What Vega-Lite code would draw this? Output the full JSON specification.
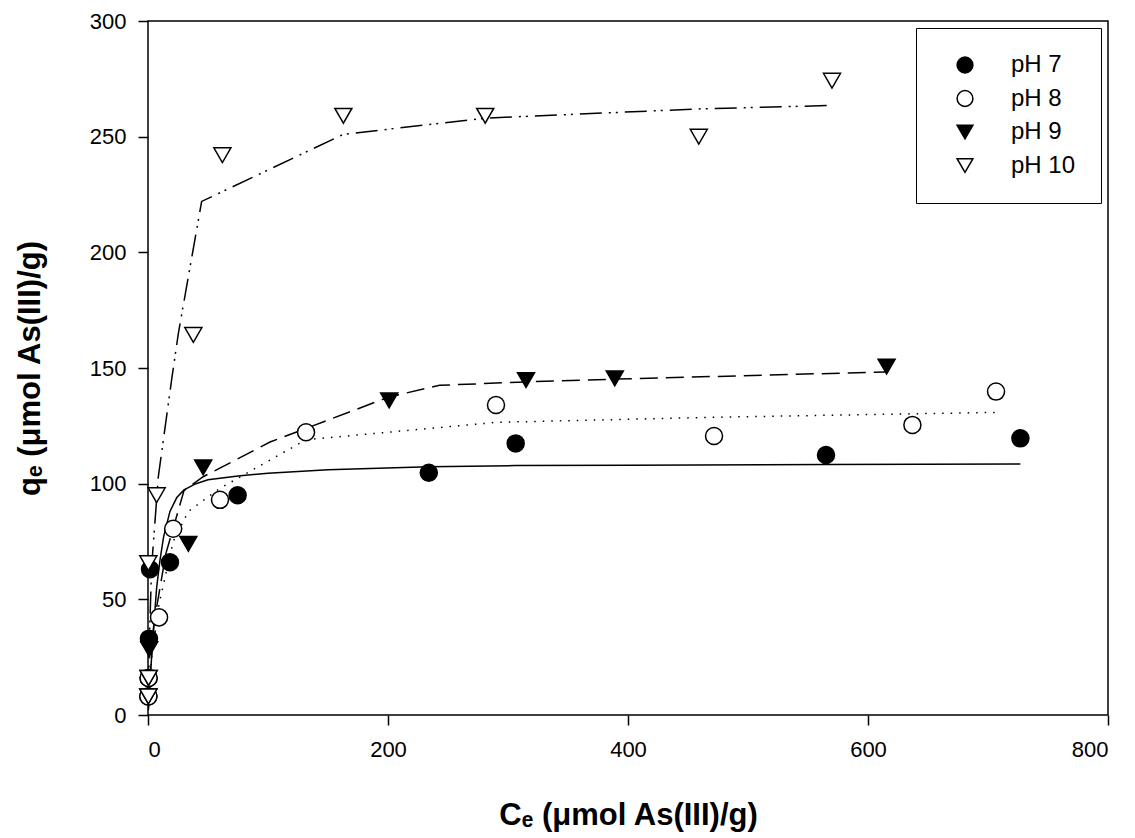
{
  "$schema": "https://vega.github.io/schema/vega-lite/v6.json",
  "width": 960,
  "height": 694,
  "autosize": {"type": "none"},
  "padding": {"left": 148, "top": 21, "right": 27, "bottom": 123},
  "background": "white",
  "config": {
    "view": {"stroke": "black", "strokeWidth": 1.5},
    "font": "Liberation Sans",
    "axis": {
      "grid": false,
      "domain": false,
      "tickColor": "black",
      "tickSize": 10,
      "tickWidth": 1.5,
      "labelFont": "Liberation Sans",
      "labelFontSize": 22,
      "labelColor": "black",
      "titleFont": "Liberation Sans",
      "titleFontSize": 31,
      "titleFontWeight": "bold",
      "titleColor": "black"
    },
    "legend": {
      "strokeColor": "black",
      "fillColor": "white",
      "padding": 25,
      "labelFontSize": 24,
      "labelFont": "Liberation Sans",
      "labelColor": "black",
      "rowPadding": 9.5,
      "labelOffset": 34,
      "symbolOffset": 12,
      "symbolSize": 250,
      "symbolStrokeWidth": 1.5,
      "symbolStrokeColor": "black",
      "symbolOpacity": 1
    }
  },
  "datasets": {
    "points": [
      {"pH": "pH 7", "Ce": 0.3, "qe": 8},
      {"pH": "pH 7", "Ce": 0.5, "qe": 16},
      {"pH": "pH 7", "Ce": 0.8, "qe": 33},
      {"pH": "pH 7", "Ce": 1.7, "qe": 63},
      {"pH": "pH 7", "Ce": 18.3, "qe": 66},
      {"pH": "pH 7", "Ce": 74.7, "qe": 95},
      {"pH": "pH 7", "Ce": 234, "qe": 104.7},
      {"pH": "pH 7", "Ce": 306.4, "qe": 117.4},
      {"pH": "pH 7", "Ce": 565, "qe": 112.4},
      {"pH": "pH 7", "Ce": 727, "qe": 119.6},
      {"pH": "pH 8", "Ce": 0.3, "qe": 8},
      {"pH": "pH 8", "Ce": 0.5, "qe": 16},
      {"pH": "pH 8", "Ce": 9.2, "qe": 42.2},
      {"pH": "pH 8", "Ce": 21, "qe": 80.5},
      {"pH": "pH 8", "Ce": 60, "qe": 93},
      {"pH": "pH 8", "Ce": 131.7, "qe": 122.2},
      {"pH": "pH 8", "Ce": 290, "qe": 134},
      {"pH": "pH 8", "Ce": 471.7, "qe": 120.6},
      {"pH": "pH 8", "Ce": 637, "qe": 125.4},
      {"pH": "pH 8", "Ce": 706.7, "qe": 139.8},
      {"pH": "pH 9", "Ce": 0.3, "qe": 8},
      {"pH": "pH 9", "Ce": 0.5, "qe": 16},
      {"pH": "pH 9", "Ce": 1, "qe": 28.5},
      {"pH": "pH 9", "Ce": 33.6, "qe": 74},
      {"pH": "pH 9", "Ce": 46, "qe": 107},
      {"pH": "pH 9", "Ce": 201, "qe": 136},
      {"pH": "pH 9", "Ce": 315, "qe": 144.8},
      {"pH": "pH 9", "Ce": 389, "qe": 145.5},
      {"pH": "pH 9", "Ce": 615.5, "qe": 150.6},
      {"pH": "pH 10", "Ce": 0.3, "qe": 8},
      {"pH": "pH 10", "Ce": 0.5, "qe": 16},
      {"pH": "pH 10", "Ce": 0.3, "qe": 65.6},
      {"pH": "pH 10", "Ce": 7.2, "qe": 95},
      {"pH": "pH 10", "Ce": 37.8, "qe": 164.3},
      {"pH": "pH 10", "Ce": 62, "qe": 242},
      {"pH": "pH 10", "Ce": 162.8, "qe": 259},
      {"pH": "pH 10", "Ce": 281, "qe": 259},
      {"pH": "pH 10", "Ce": 459, "qe": 250},
      {"pH": "pH 10", "Ce": 570, "qe": 274.2}
    ],
    "fits": [
      {"pH": "pH 7", "Ce": 0.3, "qe": 3},
      {"pH": "pH 7", "Ce": 0.8, "qe": 8},
      {"pH": "pH 7", "Ce": 1.7, "qe": 15},
      {"pH": "pH 7", "Ce": 3, "qe": 25},
      {"pH": "pH 7", "Ce": 5, "qe": 40},
      {"pH": "pH 7", "Ce": 7.2, "qe": 55},
      {"pH": "pH 7", "Ce": 10, "qe": 67},
      {"pH": "pH 7", "Ce": 13, "qe": 77},
      {"pH": "pH 7", "Ce": 18.3, "qe": 88},
      {"pH": "pH 7", "Ce": 24, "qe": 94},
      {"pH": "pH 7", "Ce": 30, "qe": 97.3},
      {"pH": "pH 7", "Ce": 40, "qe": 100},
      {"pH": "pH 7", "Ce": 50, "qe": 101.7},
      {"pH": "pH 7", "Ce": 75, "qe": 103.3},
      {"pH": "pH 7", "Ce": 100, "qe": 104.5},
      {"pH": "pH 7", "Ce": 150, "qe": 106},
      {"pH": "pH 7", "Ce": 234, "qe": 107.3},
      {"pH": "pH 7", "Ce": 306, "qe": 107.8},
      {"pH": "pH 7", "Ce": 400, "qe": 108},
      {"pH": "pH 7", "Ce": 565, "qe": 108.3},
      {"pH": "pH 7", "Ce": 727, "qe": 108.5},
      {"pH": "pH 8", "Ce": 0.3, "qe": 3},
      {"pH": "pH 8", "Ce": 0.8, "qe": 10},
      {"pH": "pH 8", "Ce": 3, "qe": 25},
      {"pH": "pH 8", "Ce": 9.2, "qe": 48},
      {"pH": "pH 8", "Ce": 21, "qe": 75},
      {"pH": "pH 8", "Ce": 33.6, "qe": 88},
      {"pH": "pH 8", "Ce": 60, "qe": 98},
      {"pH": "pH 8", "Ce": 131.7, "qe": 119},
      {"pH": "pH 8", "Ce": 290, "qe": 126.5},
      {"pH": "pH 8", "Ce": 471.7, "qe": 128.7},
      {"pH": "pH 8", "Ce": 637, "qe": 130.2},
      {"pH": "pH 8", "Ce": 706.7, "qe": 130.8},
      {"pH": "pH 9", "Ce": 0.3, "qe": 2},
      {"pH": "pH 9", "Ce": 1, "qe": 12},
      {"pH": "pH 9", "Ce": 5, "qe": 40},
      {"pH": "pH 9", "Ce": 15, "qe": 70},
      {"pH": "pH 9", "Ce": 30, "qe": 97},
      {"pH": "pH 9", "Ce": 46, "qe": 103},
      {"pH": "pH 9", "Ce": 101.7, "qe": 118},
      {"pH": "pH 9", "Ce": 201, "qe": 137.5},
      {"pH": "pH 9", "Ce": 243, "qe": 142.5},
      {"pH": "pH 9", "Ce": 315, "qe": 144},
      {"pH": "pH 9", "Ce": 389, "qe": 145.2},
      {"pH": "pH 9", "Ce": 615.5, "qe": 148.3},
      {"pH": "pH 10", "Ce": 0.3, "qe": 5},
      {"pH": "pH 10", "Ce": 1, "qe": 30},
      {"pH": "pH 10", "Ce": 3, "qe": 64},
      {"pH": "pH 10", "Ce": 8.6, "qe": 103},
      {"pH": "pH 10", "Ce": 19.7, "qe": 145},
      {"pH": "pH 10", "Ce": 25.3, "qe": 165},
      {"pH": "pH 10", "Ce": 44.7, "qe": 222},
      {"pH": "pH 10", "Ce": 162.8, "qe": 251},
      {"pH": "pH 10", "Ce": 281, "qe": 258},
      {"pH": "pH 10", "Ce": 459, "qe": 262},
      {"pH": "pH 10", "Ce": 570, "qe": 263.5}
    ]
  },
  "encoding": {
    "x": {
      "field": "Ce", "type": "quantitative",
      "scale": {"domain": [0, 800], "nice": false, "zero": false},
      "axis": {"values": [0, 200, 400, 600, 800], "title": "Cₑ (μmol As(III)/g)", "labelPadding": 14, "titlePadding": 40}
    },
    "y": {
      "field": "qe", "type": "quantitative",
      "scale": {"domain": [0, 300], "nice": false, "zero": false},
      "axis": {"values": [0, 50, 100, 150, 200, 250, 300], "title": "qₑ (μmol As(III)/g)", "labelPadding": 12, "titlePadding": 43}
    }
  },
  "layer": [
    {
      "data": {"name": "fits"},
      "transform": [{"filter": "datum.pH === 'pH 7'"}],
      "mark": {"type": "line", "color": "black", "strokeWidth": 1.5, "clip": true},
      "encoding": {}
    },
    {
      "data": {"name": "fits"},
      "transform": [{"filter": "datum.pH === 'pH 8'"}],
      "mark": {"type": "line", "color": "black", "strokeWidth": 1.5, "strokeDash": [1.5, 7], "clip": true},
      "encoding": {}
    },
    {
      "data": {"name": "fits"},
      "transform": [{"filter": "datum.pH === 'pH 9'"}],
      "mark": {"type": "line", "color": "black", "strokeWidth": 1.5, "strokeDash": [18, 8], "clip": true},
      "encoding": {}
    },
    {
      "data": {"name": "fits"},
      "transform": [{"filter": "datum.pH === 'pH 10'"}],
      "mark": {"type": "line", "color": "black", "strokeWidth": 1.5, "strokeDash": [22, 7, 2, 5, 2, 7], "clip": true},
      "encoding": {}
    },
    {
      "data": {"name": "points"},
      "mark": {"type": "point", "filled": true, "stroke": "black", "strokeWidth": 1.5, "opacity": 1, "size": 290},
      "encoding": {
        "shape": {
          "field": "pH", "type": "nominal",
          "scale": {"domain": ["pH 7", "pH 8", "pH 9", "pH 10"], "range": ["circle", "circle", "triangle-down", "triangle-down"]},
          "legend": {
            "orient": "top-right", "offset": 7, "title": "",
            "encode": {"symbols": {"update": {"stroke": {"value": "black"}, "strokeWidth": {"value": 1.5}}}}
          }
        },
        "fill": {
          "field": "pH", "type": "nominal",
          "scale": {"domain": ["pH 7", "pH 8", "pH 9", "pH 10"], "range": ["black", "white", "black", "white"]},
          "legend": {
            "orient": "top-right", "offset": 7, "title": "",
            "encode": {"symbols": {"update": {"stroke": {"value": "black"}, "strokeWidth": {"value": 1.5}}}}
          }
        }
      }
    }
  ]
}
